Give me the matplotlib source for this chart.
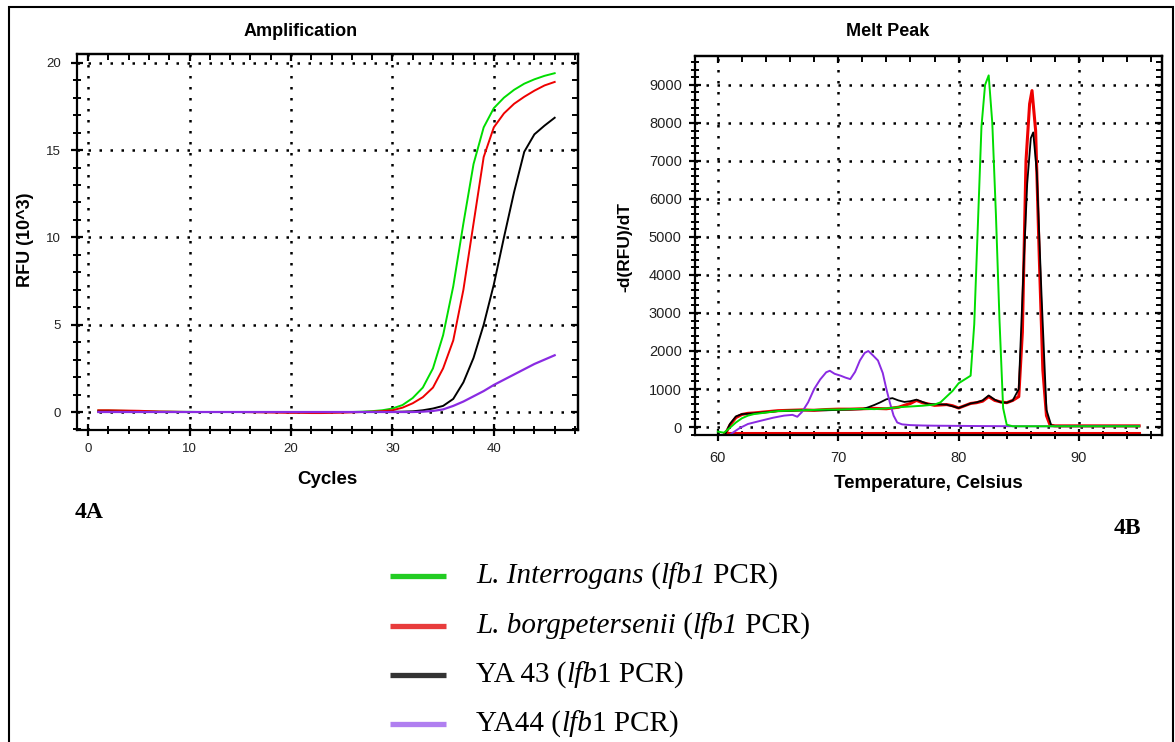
import matplotlib.pyplot as plt
from matplotlib.ticker import MultipleLocator
from matplotlib.patches import Rectangle
from matplotlib.lines import Line2D

plt.rcParams['font.family'] = ['Liberation Sans', 'DejaVu Sans']

# ---- 4A: amplification (RFU x 10^3 by cycle) ----
cycles = list(range(1, 47))
amp_green = [0.08, 0.08, 0.07, 0.06, 0.05, 0.04,
             0.02, 0.02, 0.01, 0.01, 0.0, 0.0, 0.0, 0.0, 0.0, 0.0, 0.0, 0.0, 0.0,
             -0.01, -0.01, -0.01, -0.01, -0.01, 0.0, 0.0, 0.02, 0.05,
             0.1, 0.2, 0.4, 0.8, 1.4, 2.5, 4.4, 7.2, 10.8, 14.2, 16.3, 17.4,
             18.0, 18.45, 18.8, 19.05, 19.25, 19.4]
amp_red = [0.1, 0.1, 0.09, 0.08, 0.07, 0.05,
           0.03, 0.02, 0.01, 0.0, 0.0, 0.0, 0.0, 0.0, 0.0,
           -0.01, -0.02, -0.03, -0.04, -0.05, -0.05, -0.06, -0.06, -0.05, -0.04, -0.02,
           0.0, 0.02,
           0.05, 0.1, 0.25, 0.5, 0.85, 1.4, 2.5, 4.1, 7.0, 10.8, 14.6, 16.3,
           17.1, 17.65, 18.05, 18.4, 18.7, 18.9]
amp_black = [0.02, 0.02, 0.01, 0.01, 0.0, 0.0,
             0.0, 0.0, 0.0, 0.0, 0.0, 0.0, 0.0, 0.0, 0.0, 0.0, 0.0,
             0.0, 0.0, 0.0, 0.0, 0.0, 0.0, 0.0, 0.0, 0.0, 0.0, 0.0,
             0.0, 0.01, 0.02, 0.04, 0.1, 0.2, 0.35, 0.75, 1.7, 3.1, 5.0, 7.3,
             10.0, 12.6, 14.9, 15.9, 16.4, 16.85]
amp_purple = [0.0, 0.0, 0.0, 0.0, 0.0, 0.0, 0.0, 0.0, 0.0, 0.0, 0.0,
              0.0, 0.0, 0.0, 0.0, 0.0, 0.0, 0.0, 0.0, 0.0, 0.0, 0.0,
              0.0, 0.0, 0.0, 0.0, 0.0, 0.0, 0.0, 0.0, 0.0, 0.0,
              0.02, 0.06, 0.15, 0.35, 0.6, 0.9, 1.2, 1.55, 1.85, 2.15, 2.45,
              2.75, 3.0, 3.25]

# ---- 4B: melt peak (-d(RFU)/dT by temperature) ----
t_green = [60, 60.5, 61, 61.5, 62, 62.5, 63, 64, 65, 66, 67, 68, 69, 70, 71, 72,
           73, 74, 75, 76, 77, 78, 78.5, 79, 79.5, 80, 80.5, 81, 81.3, 81.6, 81.9,
           82.2, 82.5, 82.8, 83.1, 83.4, 83.7, 84, 84.5, 85, 86, 88, 90, 92, 95]
melt_green = [-120, -150, -20, 120, 230, 300, 340, 380, 420, 430, 440, 450, 460,
              460, 470, 480, 470, 490, 520, 540, 560, 590, 650, 800, 950, 1150,
              1250, 1350, 2700, 5300, 7900, 9000, 9250, 8000, 5600, 2800, 500, 60,
              20, 20, 20, 20, 20, 20, 20]
t_red = [60.6, 61, 61.5, 62, 62.5, 63, 64, 65, 66, 67, 68, 69, 70, 71, 72, 73, 74,
         75, 76, 76.5, 77, 78, 79, 79.5, 80, 80.5, 81, 81.5, 82, 82.5, 83, 83.5, 84,
         84.5, 85, 85.3, 85.6, 85.9, 86.1, 86.4, 86.7, 87, 87.3, 87.6, 88, 90, 92, 95]
melt_red = [-200, 50, 250, 330, 360, 370, 400, 430, 440, 450, 440, 460, 470, 470,
            480, 490, 480, 520, 620, 700, 640, 570, 590, 560, 500, 560, 620, 640,
            680, 800, 700, 660, 640, 700, 800, 2500, 7000, 8500, 8850, 7800, 4500,
            1500, 300, 50, 30, 30, 30, 30]
t_black = [60.6, 61, 61.5, 62, 62.5, 63, 64, 65, 66, 67, 68, 69, 70, 71, 72, 72.5,
           73, 73.5, 74, 74.5, 75, 75.5, 76, 76.5, 77, 77.5, 78, 79, 80, 80.5, 81,
           81.5, 82, 82.5, 83, 83.5, 84, 84.5, 85, 85.4, 85.7, 86, 86.2, 86.5, 86.9,
           87.3, 87.7, 88, 90, 92, 95]
melt_black = [-200, 80, 280, 340, 350, 360, 390, 420, 430, 440, 440, 440, 450, 460,
              470, 520, 580, 650, 730, 760, 700, 660, 680, 720, 660, 600, 600, 590,
              500, 560, 620, 650, 700, 830, 720, 650, 640, 700, 1000, 4200, 6400,
              7600, 7750, 6700, 3400, 450, 40, 30, 30, 30, 30]
t_purple = [61, 61.8, 62.5, 63.5, 64.6, 65.5, 66.2, 66.6, 67, 67.5, 68, 68.5, 69,
            69.3, 69.7, 70.2, 70.6, 71, 71.4, 71.8, 72.2, 72.5, 72.9, 73.3, 73.7,
            74, 74.3, 74.6, 74.9, 75.3, 76, 77, 78, 80, 82, 85, 90, 95]
melt_purple = [-200, -30, 80, 160, 245, 300, 320, 270, 400, 650, 1000, 1250, 1440,
               1480, 1400, 1350, 1300, 1260, 1450, 1750, 1950, 2000, 1880, 1750,
               1420, 1000, 630, 300, 120, 70, 50, 40, 35, 30, 25, 20, 20, 20]
t_red_flat = [60.5, 95]
melt_red_flat = [-160, -160]

# legend rows: (text piece, italic?) pieces
legend_rows = [
    [('L. Interrogans', True), (' (', False), ('lfb1', True), (' PCR)', False)],
    [('L. borgpetersenii', True), (' (', False), ('lfb1', True), (' PCR)', False)],
    [('YA 43 (', False), ('lfb', True), ('1 PCR)', False)],
    [('YA44 (', False), ('lfb', True), ('1 PCR)', False)],
]
legend_colors = ['#22cc22', '#e83c3c', '#333333', '#b07ff0']

c_green = '#00dd00'
c_red = '#ee0000'
c_black = '#000000'
c_purple = '#8a2be2'

W, H = 1175, 742
fig = plt.figure(figsize=(W / 100, H / 100), dpi=100)


def fx(px):
    return px / W


def fy(py):
    return 1 - py / H


def style_axes(ax, xmaj, xmin, ymaj, ymin, xpad, ypad, lsize):
    ax.xaxis.set_major_locator(MultipleLocator(xmaj))
    ax.xaxis.set_minor_locator(MultipleLocator(xmin))
    ax.yaxis.set_major_locator(MultipleLocator(ymaj))
    ax.yaxis.set_minor_locator(MultipleLocator(ymin))
    ax.tick_params(which='major', direction='inout', length=9, width=1.6,
                   labelsize=lsize, labelcolor='#222222')
    ax.tick_params(which='minor', direction='inout', length=6, width=1.4)
    ax.tick_params(axis='x', pad=xpad)
    ax.tick_params(axis='y', pad=ypad)
    for s in ax.spines.values():
        s.set_linewidth(1.6)
    ax.grid(True, which='major', color='black', linestyle=(0, (1, 3.4)), linewidth=1.8)
    top = ax.secondary_xaxis('top')
    top.xaxis.set_major_locator(MultipleLocator(xmaj))
    top.xaxis.set_minor_locator(MultipleLocator(xmin))
    top.tick_params(which='major', direction='in', length=5, width=1.6, labeltop=False)
    top.tick_params(which='minor', direction='in', length=4, width=1.4)
    top.spines['top'].set_linewidth(1.6)
    right = ax.secondary_yaxis('right')
    right.yaxis.set_major_locator(MultipleLocator(ymaj))
    right.yaxis.set_minor_locator(MultipleLocator(ymin))
    right.tick_params(which='major', direction='in', length=5, width=1.6, labelright=False)
    right.tick_params(which='minor', direction='in', length=4, width=1.4)
    right.spines['right'].set_linewidth(1.6)


# Amplification panel
ax1 = fig.add_axes([fx(77), fy(430), fx(578 - 77), (430 - 54) / H])
ax1.plot(cycles, amp_green, color=c_green, lw=1.4)
ax1.plot(cycles, amp_red, color=c_red, lw=1.4)
ax1.plot(cycles, amp_black, color=c_black, lw=1.4)
ax1.plot(cycles, amp_purple, color=c_purple, lw=1.6)
ax1.set_xlim(-1.1, 48.3)
ax1.set_ylim(-1.03, 20.5)
style_axes(ax1, 10, 2, 5, 1, 5, 7, 9.5)

# Melt peak panel
ax2 = fig.add_axes([fx(695), fy(435), fx(1162 - 695), (435 - 56) / H])
ax2.plot(t_red_flat, melt_red_flat, color=c_red, lw=2.2)
ax2.plot(t_red, melt_red, color=c_red, lw=2.2)
ax2.plot(t_black, melt_black, color=c_black, lw=1.3)
ax2.plot(t_purple, melt_purple, color=c_purple, lw=1.4)
ax2.plot(t_green, melt_green, color=c_green, lw=1.4)
ax2.set_xlim(58.1, 96.9)
ax2.set_ylim(-210, 9760)
style_axes(ax2, 10, 2, 1000, 200, 7, 5, 10.5)

# titles and axis labels
fig.text(fx(301), fy(32), 'Amplification', ha='center', va='center',
         fontsize=13, fontweight='bold')
fig.text(fx(888), fy(32), 'Melt Peak', ha='center', va='center',
         fontsize=13, fontweight='bold')
fig.text(fx(327), fy(479), 'Cycles', ha='center', va='center',
         fontsize=13.5, fontweight='bold')
fig.text(fx(928), fy(483), 'Temperature, Celsius', ha='center', va='center',
         fontsize=13.5, fontweight='bold')
fig.text(fx(25), fy(240), 'RFU (10^3)', ha='center', va='center', rotation=90,
         fontsize=13, fontweight='bold')
fig.text(fx(625), fy(247), '-d(RFU)/dT', ha='center', va='center', rotation=90,
         fontsize=12.5, fontweight='bold')

# panel tags
fig.text(fx(89), fy(513), '4A', ha='center', va='center', fontsize=17,
         fontweight='bold', family='Liberation Serif')
fig.text(fx(1127), fy(528), '4B', ha='center', va='center', fontsize=17,
         fontweight='bold', family='Liberation Serif')

# legend drawn below the panels, text built piece by piece for the italics
renderer = fig.canvas.get_renderer()
row_y = [576, 626, 675, 724]
for pieces, col, yy in zip(legend_rows, legend_colors, row_y):
    fig.add_artist(Line2D([fx(390), fx(446)], [fy(yy), fy(yy)], color=col, lw=3.8,
                          solid_capstyle='butt'))
    x = fx(476)
    for txt, ital in pieces:
        t = fig.text(x, fy(yy + 7), txt, ha='left', va='baseline', fontsize=21,
                     family='Liberation Serif', style='italic' if ital else 'normal')
        x += t.get_window_extent(renderer).width / W

# outer frame
fig.add_artist(Rectangle((fx(9), fy(760)), fx(1173 - 9), (760 - 7) / H,
                         fill=False, edgecolor='black', lw=1.5,
                         transform=fig.transFigure))

fig.savefig('out.png', dpi=100)
